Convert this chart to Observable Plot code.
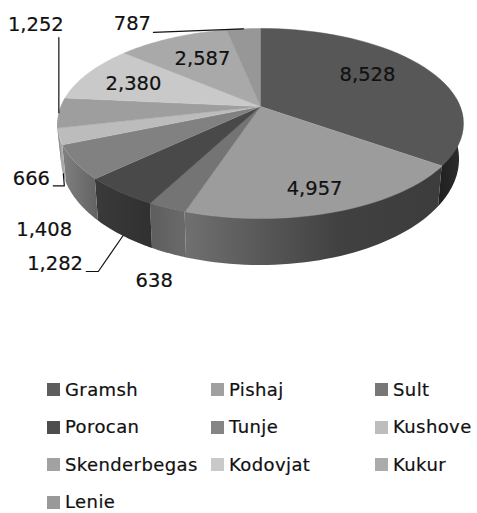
<!DOCTYPE html>
<html>
<head>
<meta charset="utf-8">
<script src="https://cdn.jsdelivr.net/npm/d3@7"></script>
<script src="https://cdn.jsdelivr.net/npm/@observablehq/plot@0.6"></script>
<style>
html,body{margin:0;padding:0;background:#fff;overflow:hidden;width:477px;height:513px}
svg{display:block}
svg text{stroke:#111;stroke-width:.2px}
#legend{position:absolute;left:47px;top:381.5px;display:grid;grid-template-columns:164px 164px 102px;grid-auto-rows:16px;row-gap:21.6px;
  font:400 18px/16px "DejaVu Sans",sans-serif;letter-spacing:.4px;color:#111;-webkit-text-stroke:.2px #111}
#legend div{display:flex;align-items:center;white-space:nowrap}
#legend i{display:block;width:13px;height:13px;margin-right:5px;flex:none}
</style>
</head>
<body>
<div id="chart"></div>
<div id="legend"></div>
<script>
// ---- data ----
const names = ["Gramsh","Pishaj","Sult","Porocan","Tunje","Kushove","Skenderbegas","Kodovjat","Kukur","Lenie"];
const values = [8528,4957,638,1282,1408,666,1252,2380,2587,787];

// ---- styles ----
const faceColors = ["#575757","#9c9c9c","#747474","#494949","#818181","#bcbcbc","#9e9e9e","#c9c9c9","#a9a9a9","#979797"];
const legendColors = ["#5d5d5d","#a0a0a0","#777777","#4d4d4d","#858585","#bdbdbd","#a2a2a2","#c9c9c9","#ababab","#999999"];
const wallStops = [
  [["#1f1f1f",0],["#2e2e2e",1]],
  [["#707070",0],["#585858",.3],["#414141",.6],["#3c3c3c",1]],
  [["#5e5e5e",0],["#6a6a6a",1]],
  [["#3a3a3a",0],["#303030",1]],
  [["#808080",0],["#626262",1]],
  [["#a8a8a8",0],["#a8a8a8",1]],
  [["#8a8a8a",0],["#8a8a8a",1]],
  [["#b0b0b0",0],["#b0b0b0",1]],
  [["#909090",0],["#909090",1]],
  [["#808080",0],["#808080",1]]
];

// ---- layout: perspective pie ----
const W = 477, H = 365;
const persp = 0.179, cx = 260;
const topFace = {y0:106, a:199.7, b:92};
const baseFace = {y0:140, a:195.8, b:102.6};
const visibleFrom = 85, visibleTo = 262;
// label offset from the slice's rim point; leader bends relative to the anchor
const labelOffset = [[-57,7],[-21,-23],[-13,73],[-65,72],[-31,67],[-28,42],[-23,-88],[45,11],[30,21],[-111,-5]];
const leaders = {
  Porocan:{face:"base", bends:[[-24.5,35.5],[-36.5,35.5]]},
  Kushove:{face:"base", bends:[[1,12],[-10,12]]},
  Skenderbegas:{face:"top", bends:[[0,-75]]},
  Lenie:{face:"top", bends:[[-90,3.5]]}
};

const project = (deg, f, r = 1) => {
  const t = deg * Math.PI / 180, u = r * Math.sin(t), v = -r * Math.cos(t), d = 1 - persp * v;
  return {x: cx + f.a * u / d, y: f.y0 + f.b * v / d};
};

const total = d3.sum(values);
let acc = 0;
const slices = names.map((name, i) => {
  const start = acc / total * 360; acc += values[i]; const end = acc / total * 360;
  return {name, i, value: values[i], start, end, mid: (start + end) / 2};
});
const steps = (a, b) => d3.range(0, 41).map(k => a + (b - a) * k / 40);

const facePoly = s => [{x: cx, y: topFace.y0}, ...steps(s.start, s.end).map(d => project(d, topFace))];
const wallRows = s => {
  const a = Math.max(s.start, visibleFrom), b = Math.min(s.end, visibleTo);
  if (b <= a) return [];
  return steps(a, b).map(d => {
    const p = project(d, topFace), q = project(d, baseFace);
    return {x1: p.x, y1: p.y, x2: q.x, y2: q.y};
  });
};

const labels = slices.map(s => {
  const p = project(s.mid, topFace);
  return {text: d3.format(",")(s.value), x: p.x + labelOffset[s.i][0], y: p.y + labelOffset[s.i][1]};
});
const leaderMarks = slices.filter(s => leaders[s.name]).map(s => {
  const l = leaders[s.name], p = project(s.mid, l.face === "base" ? baseFace : topFace);
  const pts = [p, ...l.bends.map(([dx, dy]) => ({x: p.x + dx, y: p.y + dy}))];
  return Plot.line(pts, {x: "x", y: "y", stroke: "#111", strokeWidth: 1.2});
});

const svg = Plot.plot({
  width: W, height: H, margin: 0,
  x: {domain: [0, W], range: [0, W], axis: null},
  y: {domain: [0, H], range: [0, H], axis: null},
  marks: [
    ...slices.map(s => Plot.area(wallRows(s), {x1: "x1", y1: "y1", x2: "x2", y2: "y2", fill: `url(#wall${s.i})`})),
    ...slices.map(s => Plot.line(facePoly(s), {x: "x", y: "y", fill: faceColors[s.i], stroke: faceColors[s.i], strokeWidth: 0.5})),
    ...leaderMarks,
    Plot.text(labels, {x: "x", y: "y", text: "text", fontSize: 19.5, fill: "#111", fontFamily: "'DejaVu Sans',sans-serif"})
  ]
});

const defs = d3.create("svg:defs");
slices.forEach(s => {
  const g = defs.append("linearGradient").attr("id", `wall${s.i}`).attr("x1", 0).attr("x2", 1).attr("y1", 0).attr("y2", 0);
  wallStops[s.i].forEach(([c, o]) => g.append("stop").attr("offset", o).attr("stop-color", c));
});
svg.insertBefore(defs.node(), svg.firstChild);
document.getElementById("chart").append(svg);

const legend = d3.select("#legend");
names.forEach((n, i) => {
  const d = legend.append("div");
  d.append("i").style("background", legendColors[i]);
  d.append("span").text(n);
});
</script>
</body>
</html>
